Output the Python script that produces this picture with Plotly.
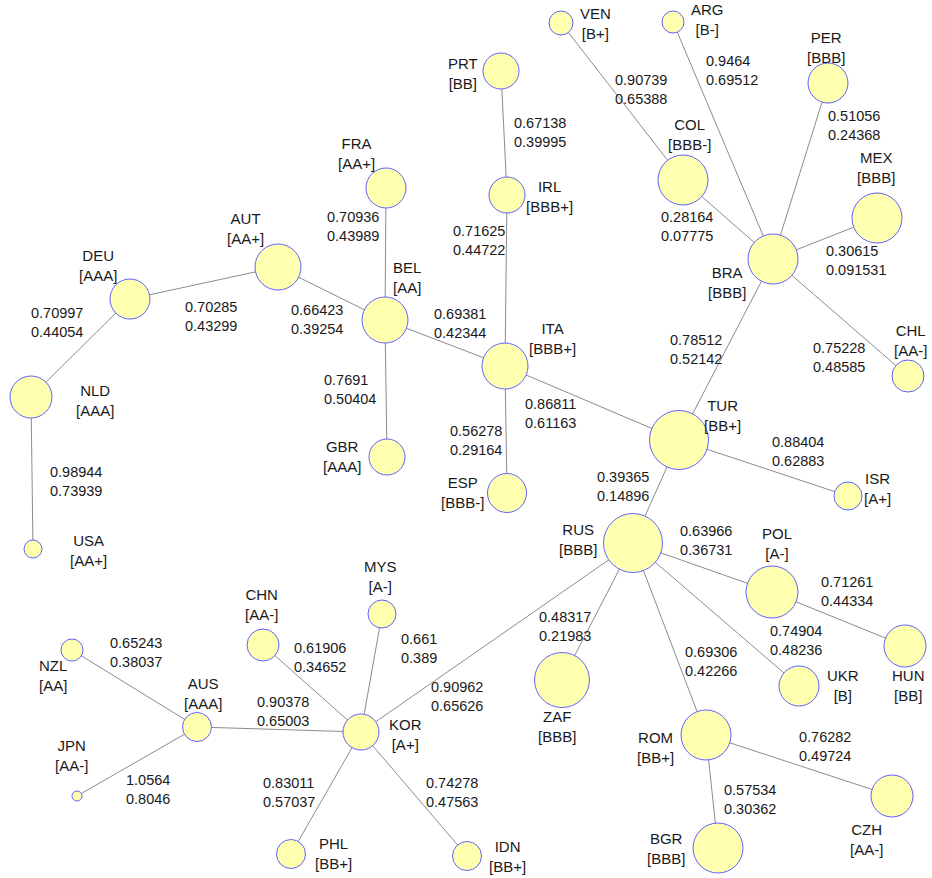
import plotly.graph_objects as go

# ---- network data -------------------------------------------------------
countries = ["USA", "NLD", "DEU", "AUT", "BEL", "FRA", "GBR", "ITA", "PRT", "IRL",
             "ESP", "TUR", "VEN", "COL", "BRA", "ARG", "PER", "MEX", "CHL", "ISR",
             "RUS", "POL", "HUN", "UKR", "ZAF", "ROM", "BGR", "CZH", "KOR", "MYS",
             "CHN", "AUS", "PHL", "IDN", "NZL", "JPN"]
ratings = ["AA+", "AAA", "AAA", "AA+", "AA", "AA+", "AAA", "BBB+", "BB", "BBB+",
           "BBB-", "BB+", "B+", "BBB-", "BBB", "B-", "BBB", "BBB", "AA-", "A+",
           "BBB", "A-", "BB", "B", "BBB", "BB+", "BBB", "AA-", "A+", "A-",
           "AA-", "AAA", "BB+", "BB+", "AA", "AA-"]

edge_from = ["NLD", "NLD", "DEU", "AUT", "FRA", "BEL", "BEL", "PRT", "IRL", "ITA",
             "ITA", "VEN", "COL", "ARG", "PER", "MEX", "CHL", "BRA", "TUR", "TUR",
             "RUS", "POL", "RUS", "RUS", "RUS", "ROM", "ROM", "RUS", "KOR", "KOR",
             "KOR", "KOR", "KOR", "AUS", "AUS"]
edge_to = ["USA", "DEU", "AUT", "BEL", "BEL", "GBR", "ITA", "IRL", "ITA", "ESP",
           "TUR", "COL", "BRA", "BRA", "BRA", "BRA", "BRA", "TUR", "ISR", "RUS",
           "POL", "HUN", "UKR", "ZAF", "ROM", "BGR", "CZH", "KOR", "MYS", "CHN",
           "AUS", "PHL", "IDN", "NZL", "JPN"]
edge_value_1 = ["0.98944", "0.70997", "0.70285", "0.66423", "0.70936", "0.7691", "0.69381",
                "0.67138", "0.71625", "0.56278", "0.86811", "0.90739", "0.28164", "0.9464",
                "0.51056", "0.30615", "0.75228", "0.78512", "0.88404", "0.39365", "0.63966",
                "0.71261", "0.74904", "0.48317", "0.69306", "0.57534", "0.76282", "0.90962",
                "0.661", "0.61906", "0.90378", "0.83011", "0.74278", "0.65243", "1.0564"]
edge_value_2 = ["0.73939", "0.44054", "0.43299", "0.39254", "0.43989", "0.50404", "0.42344",
                "0.39995", "0.44722", "0.29164", "0.61163", "0.65388", "0.07775", "0.69512",
                "0.24368", "0.091531", "0.48585", "0.52142", "0.62883", "0.14896", "0.36731",
                "0.44334", "0.48236", "0.21983", "0.42266", "0.30362", "0.49724", "0.65626",
                "0.389", "0.34652", "0.65003", "0.57037", "0.47563", "0.38037", "0.8046"]

# ---- layout (pixel space) ----------------------------------------------
node_x = [33, 31, 130, 278, 385, 386, 387, 505, 501, 507,
          507, 679, 561, 683, 773, 673, 828, 877, 908, 848,
          633, 772, 905, 799, 562, 706, 718, 892, 361, 382,
          263, 197, 291, 467, 72, 77]
node_y = [549, 397, 299, 267, 320, 188, 457, 366, 71, 195,
          493, 440, 23, 180, 259, 22, 83, 218, 376, 496,
          543, 592, 646, 686, 680, 735, 848, 796, 732, 614,
          645, 727, 854, 856, 650, 796]
node_r = [9, 21, 20, 23, 23, 20, 18, 23, 18, 18,
          19.5, 29.5, 12, 25, 25, 11, 20, 25, 16, 14,
          29.5, 26, 21, 20, 27.5, 25, 25, 21, 18, 14,
          16, 14.5, 14.5, 14.5, 11, 5]
label_x = [88, 95, 98, 245, 407, 356, 342, 552, 463, 549,
           462, 722, 595, 689, 727, 707, 826, 876, 910, 877,
           578, 777, 908, 843, 557, 655, 666, 866, 405, 380,
           261, 203, 333, 507, 53, 71]
label_y = [550, 400, 265, 228, 277, 153, 456, 338, 73, 196,
           492, 415, 23, 134, 282, 19, 47, 167, 340, 488,
           539, 543, 685, 685, 726, 747, 848, 839, 734, 576,
           604, 693, 853, 856, 675, 755]
# left edge and vertical centre of each two-line edge label
elabel_x = [48, 29, 183, 289, 325, 322, 432, 512, 451, 448,
            523, 613, 659, 704, 826, 824, 811, 668, 770, 595,
            678, 819, 768, 537, 683, 722, 797, 429, 399, 292,
            255, 261, 424, 108, 124]
elabel_y = [481, 322, 316, 319, 226, 389, 323, 132, 240, 440,
            413, 89, 226, 70, 125, 260, 357, 349, 451, 486,
            540, 591, 640, 626, 661, 799, 746, 696, 648, 657,
            711, 792, 792, 652, 789]

W, H = 932, 878
FONT = "Liberation Sans, Arial, sans-serif"
pos = {c: (x, y) for c, x, y in zip(countries, node_x, node_y)}

fig = go.Figure()

# edges
ex, ey = [], []
for a, b in zip(edge_from, edge_to):
    ex += [pos[a][0], pos[b][0], None]
    ey += [pos[a][1], pos[b][1], None]
fig.add_trace(go.Scatter(x=ex, y=ey, mode="lines",
                         line=dict(color="#8c8c8c", width=1),
                         hoverinfo="skip", showlegend=False))

# nodes (opaque, drawn over the edges)
fig.add_trace(go.Scatter(
    x=node_x, y=node_y, mode="markers",
    marker=dict(size=[2 * r for r in node_r], color="#ffffb0", opacity=1,
                line=dict(color="#6262ff", width=1)),
    text=[f"{c} [{r}]" for c, r in zip(countries, ratings)],
    hoverinfo="text", showlegend=False))

annotations = []
for c, r, x, y in zip(countries, ratings, label_x, label_y):
    annotations.append(dict(x=x, y=y, xref="x", yref="y", showarrow=False,
                            text=f"{c}<br>[{r}]", align="center",
                            xanchor="center", yanchor="middle",
                            font=dict(family=FONT, size=15, color="#1a1a1a")))
for v1, v2, x, y in zip(edge_value_1, edge_value_2, elabel_x, elabel_y):
    annotations.append(dict(x=x, y=y, xref="x", yref="y", showarrow=False,
                            text=f"{v1}<br>{v2}", align="left",
                            xanchor="left", yanchor="middle",
                            font=dict(family=FONT, size=14.5, color="#1a1a1a")))

fig.update_layout(
    width=W, height=H, margin=dict(l=0, r=0, t=0, b=0),
    paper_bgcolor="white", plot_bgcolor="white",
    xaxis=dict(range=[0, W], visible=False, fixedrange=True),
    yaxis=dict(range=[H, 0], visible=False, fixedrange=True),
    annotations=annotations,
)

fig.write_html("out.html")
